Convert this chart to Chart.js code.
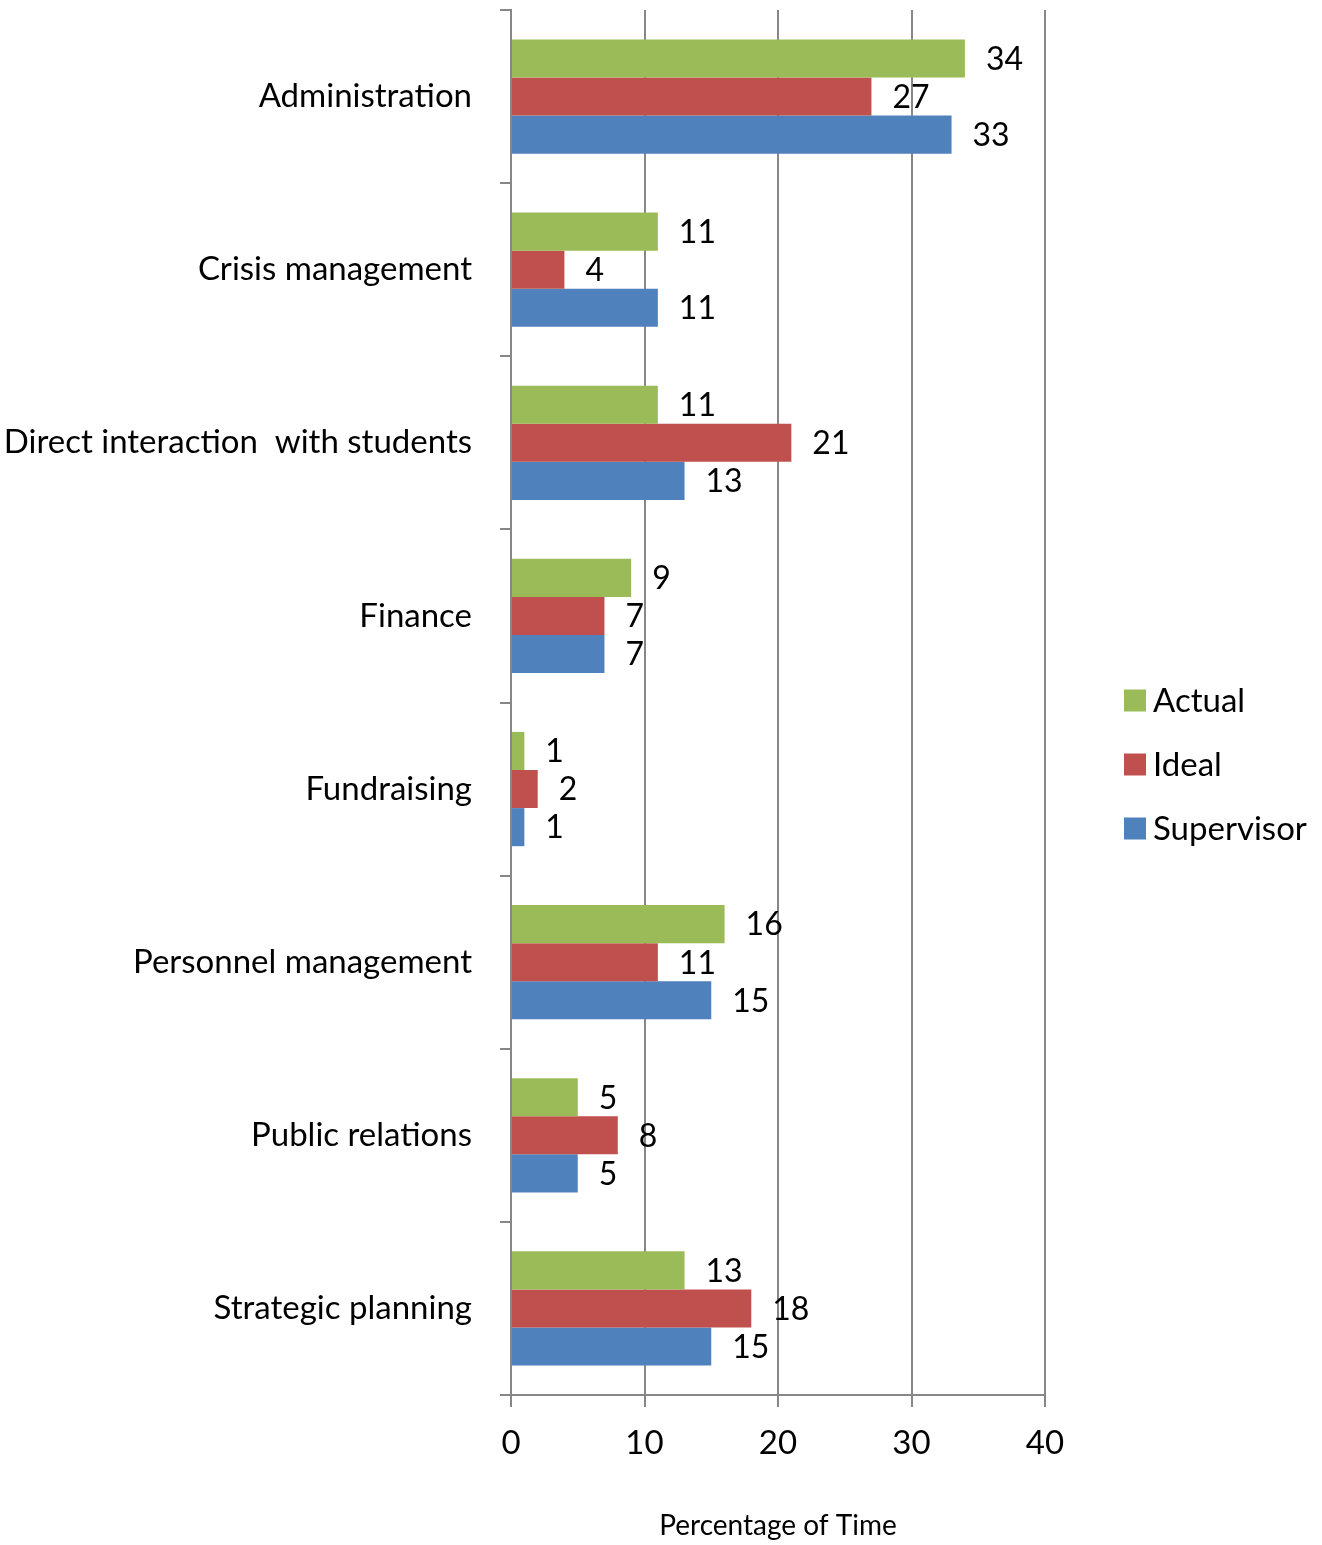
<!DOCTYPE html>
<html>
<head>
<meta charset="utf-8">
<title>Percentage of Time</title>
<script src="https://cdn.jsdelivr.net/npm/chart.js@4.4.1/dist/chart.umd.min.js"></script>
<style>
    html, body { margin: 0; padding: 0; background: #ffffff; }
    #chart-wrap { width: 1322px; height: 1545px; }
</style>
</head>
<body>
<div id="chart-wrap"><canvas id="time-chart" width="1322" height="1545"></canvas></div>
<script>
const categories = [
    'Administration',
    'Crisis management',
    'Direct interaction  with students',
    'Finance',
    'Fundraising',
    'Personnel management',
    'Public relations',
    'Strategic planning'
];
const seriesNames = ['Actual', 'Ideal', 'Supervisor'];
const actual = [34, 11, 11, 9, 1, 16, 5, 13];
const ideal = [27, 4, 21, 7, 2, 11, 8, 18];
const supervisor = [33, 11, 13, 7, 1, 15, 5, 15];
const xTicks = [0, 10, 20, 30, 40];
const seriesColors = ['#9BBB59', '#C0504D', '#4F81BD'];

const FONT = 'Lato, "Noto Sans", sans-serif';
const AXIS_GREY = '#878787';

// numbers written just past the end of every bar
const valueLabels = {
    id: 'valueLabels',
    afterDatasetsDraw(chart) {
        const ctx = chart.ctx;
        ctx.save();
        ctx.font = '32px ' + FONT;
        ctx.fillStyle = '#000000';
        ctx.textAlign = 'left';
        ctx.textBaseline = 'middle';
        chart.data.datasets.forEach((ds, i) => {
            chart.getDatasetMeta(i).data.forEach((bar, j) => {
                ctx.fillText(String(ds.data[j]), bar.x + 21, bar.y + 1);
            });
        });
        ctx.restore();
    }
};

// legend stacked on the right, next to the plot
const sideLegend = {
    id: 'sideLegend',
    afterDraw(chart) {
        const ctx = chart.ctx;
        const x = chart.chartArea.right + 79;
        const midY = chart.height / 2 - 8;
        ctx.save();
        ctx.font = '33px ' + FONT;
        ctx.textAlign = 'left';
        ctx.textBaseline = 'middle';
        chart.data.datasets.forEach((ds, i) => {
            const y = midY + (i - 1) * 64;
            ctx.fillStyle = ds.backgroundColor;
            ctx.fillRect(x, y - 11, 22, 22);
            ctx.fillStyle = '#000000';
            ctx.fillText(ds.label, x + 29, y + 1);
        });
        ctx.restore();
    }
};

const datasets = [actual, ideal, supervisor].map((values, i) => ({
    label: seriesNames[i],
    data: values,
    backgroundColor: seriesColors[i],
    borderWidth: 0,
    categoryPercentage: 0.66,
    barPercentage: 1.0
}));

new Chart(document.getElementById('time-chart'), {
    type: 'bar',
    data: {
        labels: categories,
        datasets: datasets
    },
    options: {
        indexAxis: 'y',
        responsive: false,
        animation: false,
        layout: {
            padding: { top: 10, right: 277, bottom: 0, left: 0 }
        },
        plugins: {
            legend: { display: false },
            tooltip: { enabled: false }
        },
        scales: {
            x: {
                min: xTicks[0],
                max: xTicks[xTicks.length - 1],
                afterBuildTicks: (scale) => {
                    scale.ticks = xTicks.map(v => ({ value: v }));
                },
                ticks: {
                    color: '#000000',
                    padding: 17,
                    font: { family: FONT, size: 33 }
                },
                grid: {
                    color: AXIS_GREY,
                    lineWidth: 2,
                    tickLength: 12
                },
                border: { color: AXIS_GREY, width: 2 },
                title: {
                    display: true,
                    text: 'Percentage of Time',
                    color: '#000000',
                    font: { family: FONT, size: 28 },
                    padding: { top: 0, bottom: 2 }
                },
                afterFit: (scale) => {
                    scale.height = 150;
                }
            },
            y: {
                ticks: {
                    color: '#000000',
                    padding: 28,
                    font: { family: FONT, size: 33 }
                },
                grid: {
                    drawOnChartArea: false,
                    offset: true,
                    color: AXIS_GREY,
                    lineWidth: 2,
                    tickLength: 11
                },
                border: { color: AXIS_GREY, width: 2 },
                afterFit: (scale) => {
                    scale.width = 511;
                    scale.paddingTop = 0;
                    scale.paddingBottom = 0;
                }
            }
        }
    },
    plugins: [valueLabels, sideLegend]
});
</script>
</body>
</html>
